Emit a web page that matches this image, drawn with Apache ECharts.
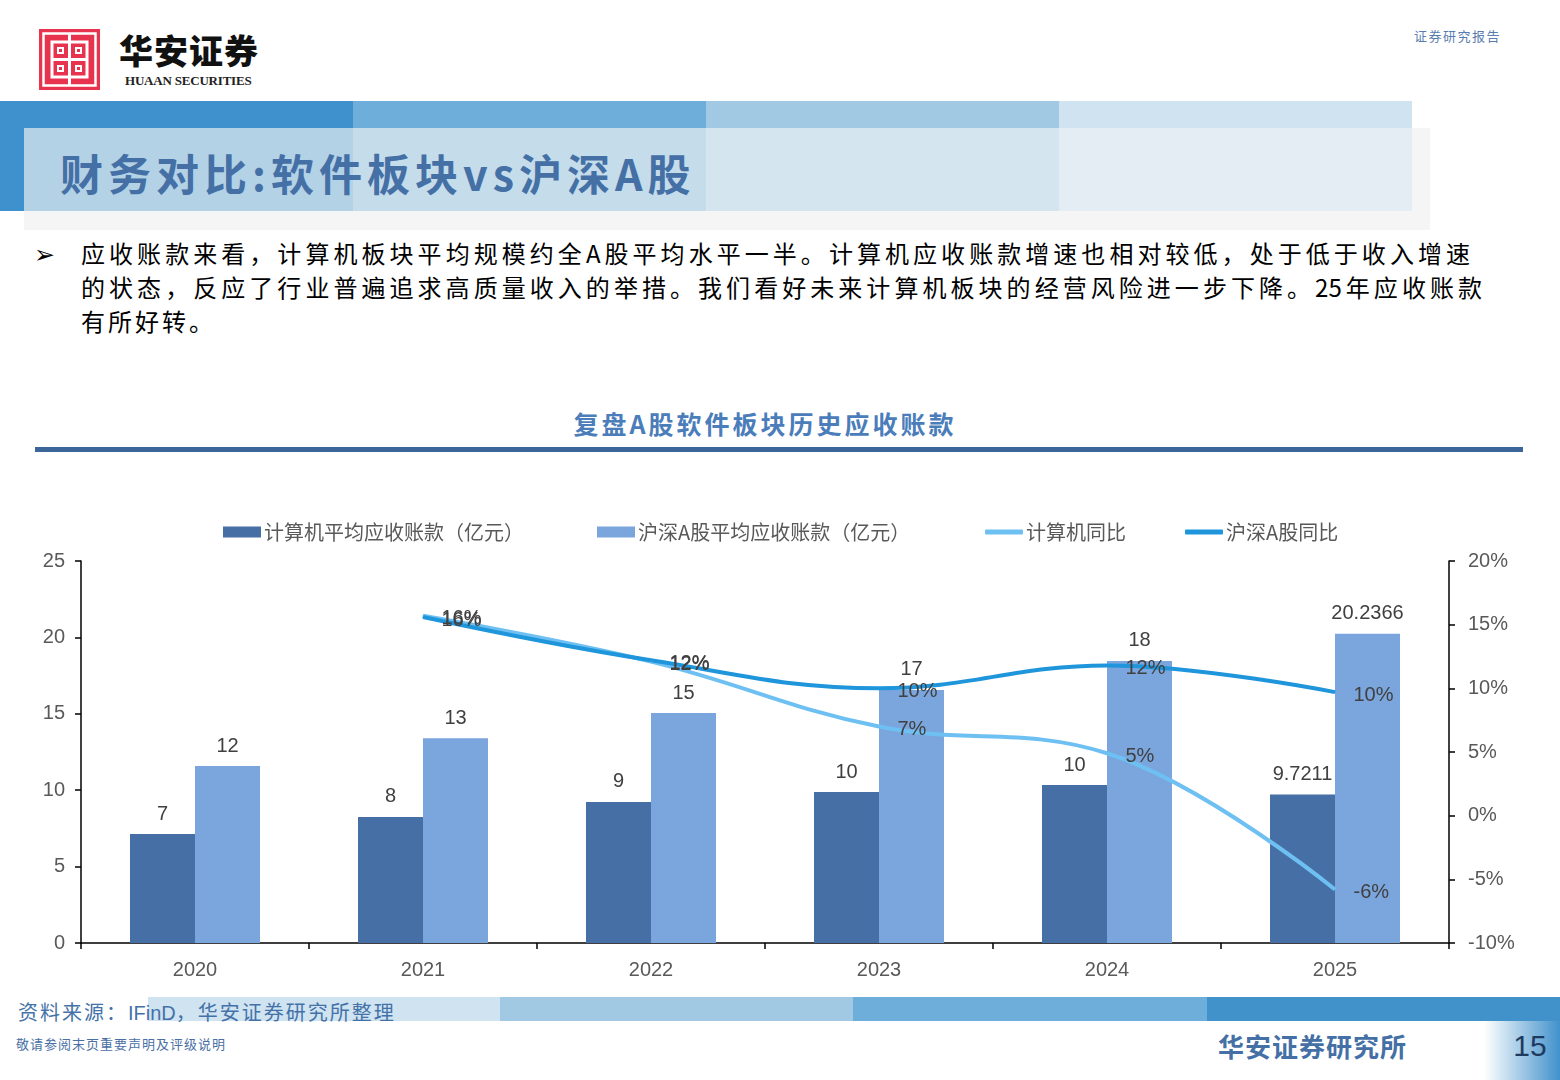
<!DOCTYPE html>
<html>
<head>
<meta charset="utf-8">
<title>复盘A股软件板块历史应收账款</title>
<script src="https://cdn.jsdelivr.net/npm/echarts@6.0.0/dist/echarts.min.js"></script>
<style>
    html, body { margin: 0; padding: 0; background: #fff; }
    .page { position: relative; width: 1560px; height: 1080px; overflow: hidden;
        font-family: "Noto Sans CJK SC", "Liberation Sans", sans-serif; }
    .abs { position: absolute; }
    .band { position: absolute; height: 27px; }
    .logo-cn { left: 119px; top: 28px; font-size: 34px; font-weight: 900; color: #111; letter-spacing: 1px; line-height: 44px; }
    .logo-en { left: 125px; top: 72px; font-family: "Liberation Serif", serif; font-size: 13px; font-weight: bold; color: #222; line-height: 18px; letter-spacing: -0.2px; }
    .report { left: 1414px; top: 26px; font-size: 13px; color: #5a7db0; letter-spacing: 1.5px; line-height: 20px; }
    .title { left: 60px; top: 142px; font-size: 43px; font-weight: bold; color: #4470a6; line-height: 60px; letter-spacing: 5px; }
    .bullet { left: 34px; top: 236px; font-size: 25px; color: #000; line-height: 32px; }
    .para { left: 81px; font-size: 24px; color: #000; line-height: 34px; white-space: nowrap; }
    .just { text-align: justify; text-align-last: justify; white-space: normal; }
    .ctitle { left: 0; width: 1530px; top: 406px; text-align: center; font-size: 25px; font-weight: bold; color: #4a7dba; letter-spacing: 3px; line-height: 34px; }
    .source { left: 18px; top: 997px; font-size: 20px; color: #4472a8; line-height: 30px; letter-spacing: 2px; }
    .notice { left: 16px; top: 1035px; font-size: 13px; color: #4a6fa5; line-height: 18px; letter-spacing: 1px; }
    .inst { left: 1218px; top: 1028px; font-size: 26px; font-weight: bold; color: #4470a6; line-height: 36px; letter-spacing: 1px; }
    .pagebox { left: 1484px; top: 1021px; width: 76px; height: 59px; background: linear-gradient(to right, #ffffff, #4191cb); }
    .pageno { left: 1484px; top: 1024px; width: 92px; text-align: center; font-family: "Liberation Sans", sans-serif; font-size: 30px; color: #1f3a60; line-height: 44px; }
    #chart { position: absolute; left: 0; top: 0; width: 1560px; height: 1080px; }
</style>
</head>
<body>
<div class="page">
    <!-- logo -->
    <svg class="abs" style="left:39px;top:29px" width="61" height="61" viewBox="0 0 61 61">
        <rect x="0" y="0" width="61" height="61" fill="#e8334f"/>
        <rect x="4.5" y="4.5" width="52" height="52" fill="none" stroke="#fff" stroke-width="2.5"/>
        <g fill="none" stroke="#fff" stroke-width="3">
            <rect x="13" y="13" width="35" height="35"/>
            <line x1="30.5" y1="5" x2="30.5" y2="56"/>
            <line x1="13" y1="30.5" x2="48" y2="30.5"/>
        </g>
        <g fill="#fff">
            <rect x="18" y="18" width="7" height="7"/>
            <rect x="36" y="18" width="7" height="7"/>
            <rect x="18" y="36" width="7" height="7"/>
            <rect x="36" y="36" width="7" height="7"/>
        </g>
        <g fill="#e8334f">
            <rect x="20" y="20" width="3" height="3"/>
            <rect x="38" y="20" width="3" height="3"/>
            <rect x="20" y="38" width="3" height="3"/>
            <rect x="38" y="38" width="3" height="3"/>
        </g>
    </svg>
    <div class="abs logo-cn">华安证券</div>
    <div class="abs logo-en">HUAAN SECURITIES</div>
    <div class="abs report">证券研究报告</div>

    <!-- header bands -->
    <div class="band" style="left:0;top:101px;width:353px;background:#3f91cd"></div>
    <div class="band" style="left:353px;top:101px;width:353px;background:#6eaeda"></div>
    <div class="band" style="left:706px;top:101px;width:353px;background:#a2c9e4"></div>
    <div class="band" style="left:1059px;top:101px;width:353px;background:#cfe3f1"></div>
    <div class="abs" style="left:0;top:128px;width:24px;height:83px;background:#3f91cd"></div>
    <div class="abs" style="left:24px;top:128px;width:1406px;height:102px;background:#f5f5f5"></div>
    <div class="abs" style="left:24px;top:128px;width:329px;height:83px;background:#b4d2e6"></div>
    <div class="abs" style="left:353px;top:128px;width:353px;height:83px;background:#c5dceb"></div>
    <div class="abs" style="left:706px;top:128px;width:353px;height:83px;background:#d5e5f0"></div>
    <div class="abs" style="left:1059px;top:128px;width:353px;height:83px;background:#e5edf4"></div>
    <div class="abs title">财务对比:软件板块vs沪深A股</div>

    <!-- text -->
    <div class="abs bullet">➢</div>
    <div class="abs para just" style="top:236px;width:1389px">应收账款来看，计算机板块平均规模约全A股平均水平一半。计算机应收账款增速也相对较低，处于低于收入增速</div>
    <div class="abs para just" style="top:270px;width:1401px">的状态，反应了行业普遍追求高质量收入的举措。我们看好未来计算机板块的经营风险进一步下降。25年应收账款</div>
    <div class="abs para" style="top:304px;letter-spacing:3px">有所好转。</div>

    <div class="abs ctitle">复盘A股软件板块历史应收账款</div>
    <div class="abs" style="left:35px;top:447px;width:1488px;height:5px;background:#3c6699"></div>

    <!-- footer -->
    <div class="band" style="left:148px;top:997px;width:352px;height:24px;background:#cfe3f1"></div>
    <div class="band" style="left:500px;top:997px;width:353px;height:24px;background:#a2c9e4"></div>
    <div class="band" style="left:853px;top:997px;width:354px;height:24px;background:#6eaeda"></div>
    <div class="band" style="left:1207px;top:997px;width:353px;height:24px;background:#4191cb"></div>
    <div class="abs source">资料来源：<span style="font-family:'Liberation Sans',sans-serif;letter-spacing:0">IFinD</span>，华安证券研究所整理</div>
    <div class="abs notice">敬请参阅末页重要声明及评级说明</div>
    <div class="abs inst">华安证券研究所</div>
    <div class="abs pagebox"></div>
    <div class="abs pageno">15</div>

    <div id="chart"></div>
</div>

<script>
// 年份
var years = ['2020', '2021', '2022', '2023', '2024', '2025'];
// 平均应收账款（亿元）
var computerAR = [7.13, 8.25, 9.23, 9.88, 10.34, 9.7211];
var aShareAR = [11.58, 13.4, 15.05, 16.56, 18.46, 20.2366];
// 同比（%）
var computerYoY = [null, 15.7, 12.1, 7.0, 4.9, -5.8];
var aShareYoY = [null, 15.6, 12.2, 10.0, 11.8, 9.7];

var seriesNames = ['计算机平均应收账款（亿元）', '沪深A股平均应收账款（亿元）', '计算机同比', '沪深A股同比'];

var chart = echarts.init(document.getElementById('chart'));

var labelFont = { fontFamily: 'Liberation Sans', fontSize: 20, color: '#404040' };
var axisFont = { fontFamily: 'Liberation Sans', fontSize: 20, color: '#595959' };

function barLabel(p) {
    // 最后一年显示原值
    return p.dataIndex === years.length - 1 ? String(p.value) : String(Math.round(p.value));
}
function pctLabel(p) {
    return Math.round(p.value) + '%';
}

function legendItem(name, left, icon, h) {
    return {
        left: left,
        top: 517,
        itemWidth: 38,
        itemHeight: h,
        icon: icon,
        data: [name],
        textStyle: { fontFamily: 'Noto Sans CJK SC', fontSize: 20, color: '#595959', padding: [0, 0, 0, -2] }
    };
}

var option = {
    animation: false,
    backgroundColor: 'transparent',
    legend: [
        legendItem(seriesNames[0], 218, 'rect', 11),
        legendItem(seriesNames[1], 592, 'rect', 11),
        legendItem(seriesNames[2], 980, 'roundRect', 5),
        legendItem(seriesNames[3], 1180, 'roundRect', 5)
    ],
    grid: {
        left: 81,
        right: 111,
        top: 561,
        height: 382
    },
    xAxis: {
        type: 'category',
        data: years,
        axisLine: { lineStyle: { color: '#000', width: 1.5 } },
        axisTick: { show: true, length: 6, lineStyle: { color: '#000', width: 1.5 } },
        axisLabel: Object.assign({ margin: 17 }, axisFont),
        splitLine: { show: false }
    },
    yAxis: [
        {
            type: 'value',
            min: 0,
            max: 25,
            interval: 5,
            axisLine: { show: true, lineStyle: { color: '#000', width: 1.5 } },
            axisTick: { show: true, length: 6, lineStyle: { color: '#000', width: 1.5 } },
            axisLabel: Object.assign({ margin: 16 }, axisFont),
            splitLine: { show: false }
        },
        {
            type: 'value',
            min: -10,
            max: 20,
            interval: 5,
            position: 'right',
            axisLine: { show: true, lineStyle: { color: '#000', width: 1.5 } },
            axisTick: { show: true, length: 6, lineStyle: { color: '#000', width: 1.5 } },
            axisLabel: Object.assign({ margin: 19, formatter: '{value}%' }, axisFont),
            splitLine: { show: false }
        }
    ],
    series: [
        {
            name: seriesNames[0],
            type: 'bar',
            data: computerAR,
            barWidth: 65,
            barGap: '0%',
            itemStyle: { color: '#466fa5' },
            label: Object.assign({ show: true, position: 'top', distance: 10, formatter: barLabel }, labelFont)
        },
        {
            name: seriesNames[1],
            type: 'bar',
            data: aShareAR,
            barWidth: 65,
            barGap: '0%',
            itemStyle: { color: '#7aa5dd' },
            label: Object.assign({ show: true, position: 'top', distance: 10, formatter: barLabel }, labelFont)
        },
        {
            name: seriesNames[2],
            type: 'line',
            yAxisIndex: 1,
            data: computerYoY,
            smooth: 0.4,
            symbol: 'circle',
            symbolSize: 1,
            showSymbol: true,
            lineStyle: { color: '#6ec0f2', width: 4 },
            itemStyle: { color: '#6ec0f2' },
            label: Object.assign({ show: true, position: 'right', distance: 18, offset: [0, 3], formatter: pctLabel }, labelFont)
        },
        {
            name: seriesNames[3],
            type: 'line',
            yAxisIndex: 1,
            data: aShareYoY,
            smooth: 0.4,
            symbol: 'circle',
            symbolSize: 1,
            showSymbol: true,
            lineStyle: { color: '#1f95db', width: 4 },
            itemStyle: { color: '#1f95db' },
            label: Object.assign({ show: true, position: 'right', distance: 18, offset: [0, 3], formatter: pctLabel }, labelFont)
        }
    ]
};

chart.setOption(option);
</script>
</body>
</html>
